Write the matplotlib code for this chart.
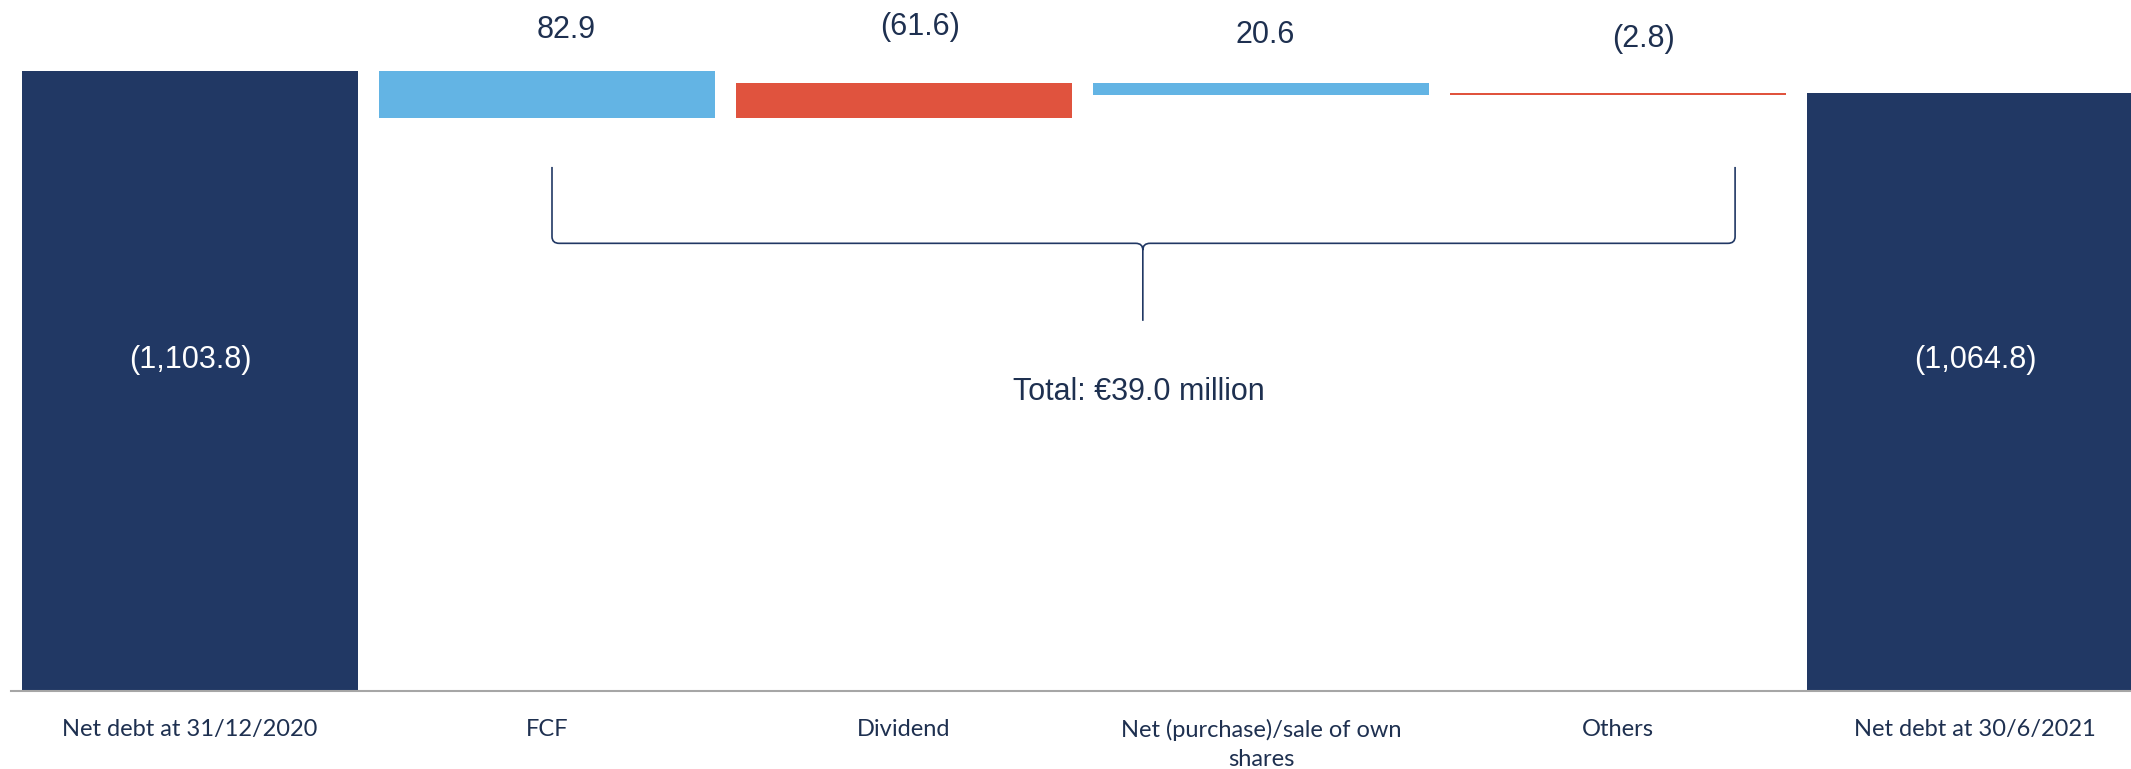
import matplotlib.pyplot as plt
from matplotlib.path import Path
from matplotlib.patches import PathPatch

# net debt bridge, EUR million
categories = ["Net debt at 31/12/2020", "FCF", "Dividend",
              "Net (purchase)/sale of own\nshares", "Others", "Net debt at 30/6/2021"]
opening_debt = 1103.8
closing_debt = 1064.8
cash_moves = [82.9, -61.6, 20.6, -2.8]  # positive = reduces debt
total_label = "Total: €39.0 million"

NAVY = "#213864"
LIGHT_BLUE = "#63B4E4"
RED = "#E0533E"
TEXT = "#1E3050"


def fmt(v):
    s = f"{abs(v):,.1f}"
    return f"({s})" if v < 0 else s


fig = plt.figure(figsize=(21.31, 7.69), dpi=100)
ax = fig.add_axes([11 / 2131, 78 / 769, 2120 / 2131, 691 / 769])

# opening / closing bars
ax.bar([0, 5], [opening_debt, closing_debt], width=0.94, color=NAVY, zorder=2)
for x, v in zip([0, 5], [opening_debt, closing_debt]):
    ax.text(x, 589, fmt(-v), ha="center", va="center", color="white",
            fontsize=22, family="Liberation Sans")

# floating bars
level = opening_debt
label_dx = [19, 16, 4, 26]   # small nudges of the value labels (px)
label_dy = [41, 56, 48, 54]
for i, mv in enumerate(cash_moves):
    new_level = level - mv
    bottom = min(level, new_level)
    top = max(level, new_level)
    col = LIGHT_BLUE if mv > 0 else RED
    ax.bar(i + 1, top - bottom, bottom=bottom, width=0.94, color=col,
           linewidth=0, zorder=2)
    ax.annotate(fmt(mv), (i + 1, top), xytext=(label_dx[i], label_dy[i]),
                textcoords="offset pixels", ha="center", va="center",
                color=TEXT, fontsize=22, family="Liberation Sans")
    level = new_level

# curly brace spanning the movements
x0, x1, xm = 1.014, 4.328, 2.669
y_top, y_mid, y_tip = 933, 797, 659
rx, ry = 0.02, 12
verts = [(x0, y_top), (x0, y_mid + ry), (x0, y_mid), (x0 + rx, y_mid),
         (xm - rx, y_mid), (xm, y_mid), (xm, y_mid - ry), (xm, y_tip),
         (xm, y_mid - ry), (xm, y_mid), (xm + rx, y_mid),
         (x1 - rx, y_mid), (x1, y_mid), (x1, y_mid + ry), (x1, y_top)]
codes = [Path.MOVETO, Path.LINETO, Path.CURVE3, Path.CURVE3,
         Path.LINETO, Path.CURVE3, Path.CURVE3, Path.LINETO,
         Path.MOVETO, Path.CURVE3, Path.CURVE3,
         Path.LINETO, Path.CURVE3, Path.CURVE3, Path.LINETO]
ax.add_patch(PathPatch(Path(verts, codes), fill=False, edgecolor=NAVY, lw=1.2, zorder=3))
ax.text(xm - 0.01, 532, total_label, ha="center", va="center", color=TEXT,
        fontsize=22, family="Liberation Sans")

ax.set_xlim(-0.5014, 5.437)
ax.set_ylim(0, 1230.2)
ax.set_xticks(range(len(categories)))
ax.set_xticklabels(categories, fontsize=17, family="Lato", color=TEXT, linespacing=1.45)
ax.tick_params(axis="x", length=0, pad=20)
ax.set_yticks([])
for side in ["top", "right", "left"]:
    ax.spines[side].set_visible(False)
ax.spines["bottom"].set_color("#A6A6A6")
ax.spines["bottom"].set_linewidth(1.5)

fig.savefig("out.png", dpi=100)
